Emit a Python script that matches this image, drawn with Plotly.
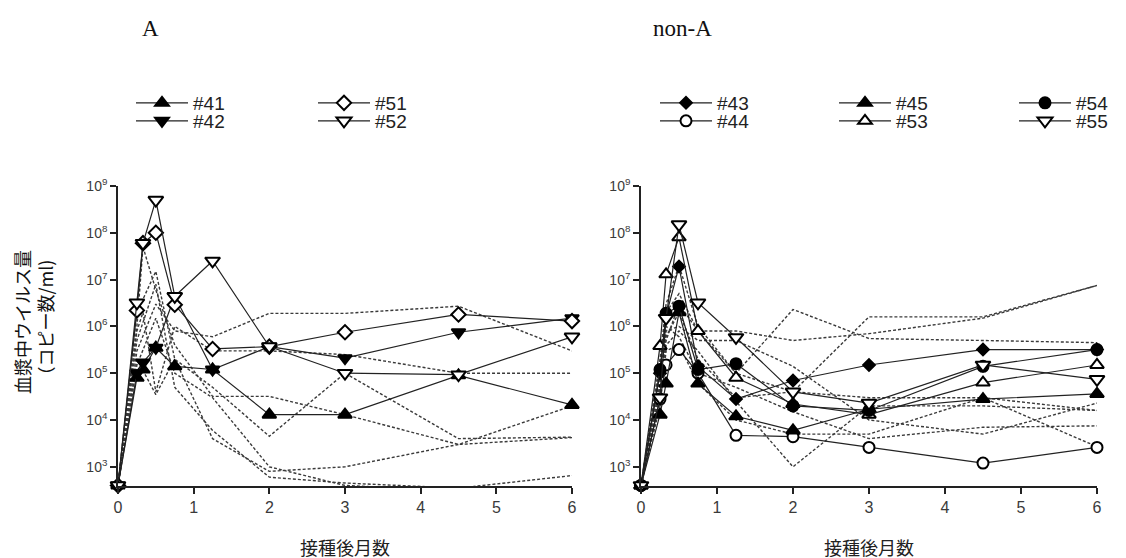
import plotly.graph_objects as go

W, H = 1126, 558
OFF = 8  # page body margin of the browser

# sampling times (months after inoculation)
T = [0, 0.25, 0.33, 0.5, 0.75, 1.25, 2, 3, 4.5, 6]
x_ticks = [0, 1, 2, 3, 4, 5, 6]
y_tickvals = [1e3, 1e4, 1e5, 1e6, 1e7, 1e8, 1e9]
y_ticktext = ["10<sup>3</sup>", "10<sup>4</sup>", "10<sup>5</sup>", "10<sup>6</sup>",
              "10<sup>7</sup>", "10<sup>8</sup>", "10<sup>9</sup>"]

# ---- Panel A (named animals) ----
a41 = [400, 8e4, 1.2e5, 3.5e5, 1.4e5, 1.2e5, 1.3e4, 1.3e4, 9e4, 2.1e4]
a42 = [400, 1e5, 1.7e5, 3.5e5, 4.4e6, 1.2e5, 3.7e5, 2.1e5, 7.5e5, 1.5e6]
a51 = [400, 2.2e6, 6e7, 1e8, 2.9e6, 3.3e5, 3.7e5, 7.5e5, 1.8e6, 1.3e6]
a52 = [400, 3.2e6, 6e7, 5e8, 4.4e6, 2.5e7, 3.7e5, 1e5, 9.3e4, 6e5]

# Panel A other animals (dashed)
a_other = [
    [400, 3e5, None, 3e6, 8e5, 6e5, 1.9e6, 1.9e6, 2.7e6, 3e5],
    [400, 1e6, 5e7, 6e6, 4e5, 3.2e4, 3.2e4, 1.3e4, 3e3, 4.2e3],
    [400, 2e6, None, 1.5e7, 2e5, 5e4, 4.5e3, 1e5, 4e3, 4.3e3],
    [400, 2e5, None, 3.5e4, 2e5, 4e3, 8e2, 1e3, 3e3, 2e4],
    [400, 5e5, None, 8e6, 5e4, 6e3, 6e2, 4.5e2, 3.5e2, 6.5e2],
    [400, 1.5e5, None, 1.5e6, 1e5, 3e4, 1e3, 4e2, 3e2, 3e2],
    [400, 8e5, 2e6, 4e4, 1e6, 3e5, 3e5, 2.5e5, 1e5, 1e5],
]

# ---- Panel non-A (named animals) ----
b43 = [400, 1e5, 1.7e6, 1.9e7, 1.4e5, 2.8e4, 7e4, 1.5e5, 3.2e5, 3.2e5]
b44 = [400, 2.8e4, 1.5e5, 3.2e5, 1e5, 4.7e3, 4.4e3, 2.6e3, 1.2e3, 2.6e3]
b45 = [400, 1.3e4, 6e4, 2e6, 6e4, 1.2e4, 6e3, 1.7e4, 2.8e4, 3.6e4]
b53 = [400, 3.8e5, 1.3e7, 8e7, 8e5, 8e4, 2.2e4, 1.3e4, 6.3e4, 1.5e5]
b54 = [400, 1.2e5, 1.9e6, 2.7e6, 1.2e5, 1.6e5, 2e4, 1.6e4, 1.4e5, 3.2e5]
b55 = [400, 3e4, 1.5e6, 1.5e8, 3.2e6, 5.8e5, 4e4, 2.3e4, 1.5e5, 7.4e4]

# Panel non-A other animals (dashed)
b_other = [
    [400, 2e5, 3e6, 2e7, 1e6, 1e5, 4e4, 1.6e6, 1.6e6, 7.5e6],
    [400, 1.5e5, 2e6, 5e6, 8e5, 1e5, 2.3e6, 5.5e5, 5e5, 4.5e5],
    [400, 8e4, 5e5, 3e6, 8e5, 8e5, 5e5, 7e5, 1.5e6, 7.5e6],
    [400, 5e4, 8e5, 1e6, 5e5, 5e5, 1.4e5, 1e4, 5e3, 2.3e4],
    [400, 3e4, 4e5, 8e5, 3e5, 2.5e4, 1e3, 2e4, 2e4, 1.6e4],
    [400, 6e4, 1e6, 6e5, 1e5, 5e4, 1.5e4, 4e3, 7e3, 7.5e3],
    [400, 2e4, 3e5, 4e5, 6e4, 1e4, 5e3, 5e3, 3e4, 2.7e3],
    [400, 4e4, 6e5, 2e6, 2e5, 3e4, 4e4, 3e4, 3e4, 1.6e4],
]

LINE = "#222222"
DASH = "#3a3a3a"


def px(x):
    return (x - OFF) / W


def py(y):
    return 1 - (y - OFF) / H


fig = go.Figure()


def dashed(ys, xa, ya):
    fig.add_trace(go.Scatter(
        x=T, y=ys, mode="lines", xaxis=xa, yaxis=ya, connectgaps=True,
        line=dict(color=DASH, width=1.4, dash="3px,2px"),
        showlegend=False, hoverinfo="skip", cliponaxis=True))


def named(name, ys, xa, ya, symbol, fill, size, legend):
    fig.add_trace(go.Scatter(
        x=T, y=ys, mode="lines+markers", name=name, xaxis=xa, yaxis=ya,
        connectgaps=True, cliponaxis=False, legend=legend,
        line=dict(color=LINE, width=1.2),
        marker=dict(symbol=symbol, size=size, color=fill,
                    line=dict(color="#000000", width=2))))


for ys in a_other:
    dashed(ys, "x", "y")
for ys in b_other:
    dashed(ys, "x2", "y2")

named("#41", a41, "x", "y", "triangle-up", "#000000", 12, "legend")
named("#42", a42, "x", "y", "triangle-down", "#000000", 12, "legend2")
named("#51", a51, "x", "y", "diamond", "#ffffff", 11, "legend3")
named("#52", a52, "x", "y", "triangle-down", "#ffffff", 13, "legend4")
named("#43", b43, "x2", "y2", "diamond", "#000000", 9, "legend5")
named("#44", b44, "x2", "y2", "circle", "#ffffff", 11, "legend6")
named("#45", b45, "x2", "y2", "triangle-up", "#000000", 12, "legend7")
named("#53", b53, "x2", "y2", "triangle-up", "#ffffff", 12, "legend8")
named("#54", b54, "x2", "y2", "circle", "#000000", 11, "legend9")
named("#55", b55, "x2", "y2", "triangle-down", "#ffffff", 13, "legend10")

ydom = [py(486), py(186)]
xdom1 = [px(118), px(572)]
xdom2 = [px(641), px(1097)]

tickfont = dict(family="Liberation Sans, Arial", size=14, color="#3a3a3a")
xaxis_common = dict(range=[0, 6], tickvals=x_ticks, ticks="outside", ticklen=6,
                    tickwidth=1.5, tickcolor="#222", showline=True, linecolor="#222",
                    linewidth=1.6, showgrid=False, zeroline=False, tickfont=dict(
                        family="Liberation Sans, Arial", size=16, color="#3a3a3a"))
yaxis_common = dict(type="log", range=[2.59, 9], tickvals=y_tickvals, ticktext=y_ticktext,
                    ticks="outside", ticklen=6, tickwidth=1.5, tickcolor="#222",
                    showline=True, linecolor="#222", linewidth=1.6, showgrid=False,
                    zeroline=False, tickfont=tickfont)

legfont = dict(family="Liberation Sans, Arial", size=19, color="#222")


def leg(marker_px, ypx):
    return dict(orientation="v", x=px(marker_px - 26), y=py(ypx), xanchor="left",
                yanchor="middle", itemwidth=52, font=legfont,
                bgcolor="rgba(0,0,0,0)", itemsizing="trace")


fig.update_layout(
    width=W, height=H, margin=dict(l=0, r=0, t=0, b=0, autoexpand=False),
    plot_bgcolor="#ffffff", paper_bgcolor="#ffffff",
    xaxis=dict(domain=xdom1, anchor="y", **xaxis_common),
    yaxis=dict(domain=ydom, anchor="x", **yaxis_common),
    xaxis2=dict(domain=xdom2, anchor="y2", **xaxis_common),
    yaxis2=dict(domain=ydom, anchor="x2", **yaxis_common),
    legend=leg(157, 103), legend2=leg(157, 121),
    legend3=leg(339, 103), legend4=leg(339, 121),
    legend5=leg(681, 103), legend6=leg(681, 121),
    legend7=leg(860, 103), legend8=leg(860, 121),
    legend9=leg(1040, 103), legend10=leg(1040, 121),
    annotations=[
        dict(text="A", x=px(140), y=py(28), xref="paper", yref="paper",
             xanchor="left", yanchor="middle", showarrow=False,
             font=dict(family="Liberation Serif", size=23, color="#111")),
        dict(text="non-A", x=px(651), y=py(28), xref="paper", yref="paper",
             xanchor="left", yanchor="middle", showarrow=False,
             font=dict(family="Liberation Serif", size=23, color="#111")),
        dict(text="血漿中ウイルス量<br>（コピー数/ml)", x=px(33), y=py(322),
             xref="paper", yref="paper", xanchor="center", yanchor="middle",
             showarrow=False, textangle=-90,
             font=dict(family="Noto Sans CJK JP", size=18, color="#111")),
        dict(text="接種後月数", x=px(345), y=py(547), xref="paper", yref="paper",
             xanchor="center", yanchor="middle", showarrow=False,
             font=dict(family="Noto Sans CJK JP", size=18, color="#222")),
        dict(text="接種後月数", x=px(869), y=py(547), xref="paper", yref="paper",
             xanchor="center", yanchor="middle", showarrow=False,
             font=dict(family="Noto Sans CJK JP", size=18, color="#222")),
    ],
)

fig.write_html("out.html")
